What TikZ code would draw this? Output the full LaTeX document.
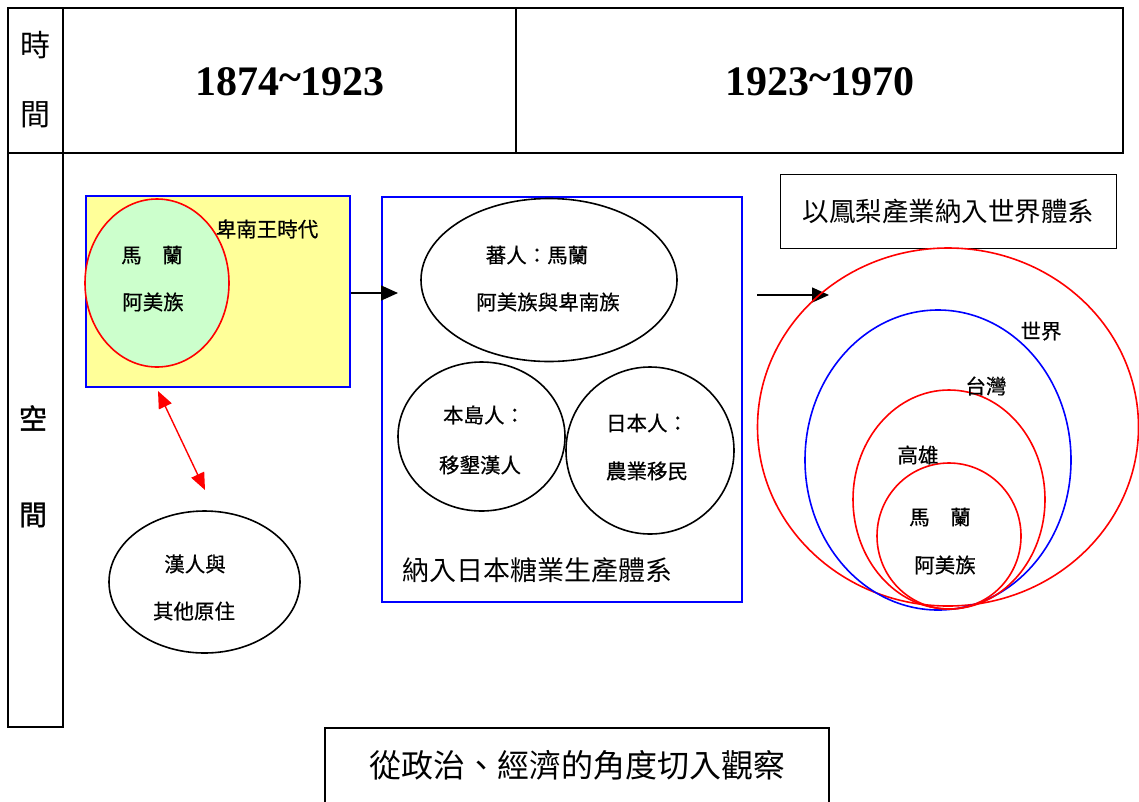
\documentclass[tikz,border=0pt]{standalone}
\usepackage{fontspec}
\setmainfont{Liberation Serif}
\newfontfamily\cjk{Noto Sans CJK TC}
\newfontfamily\cjkm{Noto Sans CJK TC}[FakeBold=0.6]
\newfontfamily\cjkb{Noto Sans CJK TC}[FakeBold=1.2]
\usetikzlibrary{shapes.geometric,arrows.meta}
\definecolor{boxyellow}{RGB}{255,255,153}
\definecolor{boxgreen}{RGB}{204,255,204}
\tikzset{
  frame/.style={draw=black,line width=2.2pt},
  bluebox/.style={draw=blue,line width=1.8pt},
  oval/.style={ellipse,draw=black,line width=1.6pt,inner sep=0pt},
  redoval/.style={ellipse,draw=red,line width=1.6pt,inner sep=0pt},
  blueoval/.style={ellipse,draw=blue,line width=1.6pt,inner sep=0pt},
  lbl/.style={inner sep=0pt,font=\cjkm\fontsize{20.5}{24}\selectfont},
  biglbl/.style={inner sep=0pt,font=\cjk\fontsize{27}{32}\selectfont},
  yr/.style={inner sep=0pt,font=\bfseries\fontsize{42}{48}\selectfont},
  arr/.style={line width=1.4pt,-{Triangle[length=17pt,width=15pt]}},
  redarr/.style={draw=red,line width=1.4pt,{Triangle[length=17pt,width=14pt]}-{Triangle[length=17pt,width=14pt]}},
}
\begin{document}
\begin{tikzpicture}[x=1pt,y=-1pt]
\useasboundingbox (0,0) rectangle (1139,801);
% table
\draw[frame] (8,8) rectangle (1123,153);
\draw[frame] (63,8) -- (63,153);
\draw[frame] (516,8) -- (516,153);
\draw[frame] (8,153) rectangle (63,727);
\node[inner sep=0pt,font=\cjk\fontsize{30}{34}\selectfont] (t1) at (35,45) {時};
\node[inner sep=0pt,font=\cjk\fontsize{30}{34}\selectfont] (t2) at (35,115) {間};
\node[yr] (y1) at (290,82) {1874\raisebox{0.1em}{\char`~}1923};
\node[yr] (y2) at (820,82) {1923\raisebox{0.1em}{\char`~}1970};
\node[inner sep=0pt,font=\cjkb\fontsize{28}{32}\selectfont] (s1) at (33,418) {空};
\node[inner sep=0pt,font=\cjkb\fontsize{28}{32}\selectfont] (s2) at (33,515) {間};
% left yellow box
\node[bluebox,fill=boxyellow,minimum width=264pt,minimum height=191pt,inner sep=0pt] (ybox) at (218,291.5) {};
\node[redoval,fill=boxgreen,minimum width=144pt,minimum height=168pt] (green) at (157,283) {};
\node[lbl] (beinan) at (267,229) {卑南王時代};
\node[lbl] (ml1) at (152,255) {馬　蘭};
\node[lbl] (am1) at (153,302) {阿美族};
% Han ellipse
\node[oval,minimum width=191pt,minimum height=142pt] (han) at (204.5,582) {};
\node[lbl] (han1) at (195,564) {漢人與};
\node[lbl] (han2) at (194,611) {其他原住};
\coordinate (ra1) at (158,391);
\coordinate (ra2) at (205,490);
\draw[redarr] (ra1) -- (ra2);
% middle blue box
\node[bluebox,minimum width=360pt,minimum height=405pt,inner sep=0pt] (mbox) at (562,399.5) {};
\coordinate (a1e) at (398,293);
\draw[arr] (ybox.east |- a1e) -- (a1e);
\node[oval,minimum width=256pt,minimum height=163pt] (fan) at (549,280) {};
\node[lbl] (fan1) at (537,255) {蕃人：馬蘭};
\node[lbl] (fan2) at (548,302) {阿美族與卑南族};
\node[oval,minimum width=167pt,minimum height=149pt] (bd) at (481.5,436.5) {};
\node[lbl] (bd1) at (484,415) {本島人：};
\node[lbl] (bd2) at (480,465) {移墾漢人};
\node[oval,minimum width=168pt,minimum height=167pt] (jp) at (650,450.5) {};
\node[lbl] (jp1) at (647,423) {日本人：};
\node[lbl] (jp2) at (647,471) {農業移民};
\node[biglbl] (sugar) at (537,570) {納入日本糖業生產體系};
% right part
\node[draw=black,line width=1.6pt,minimum width=336pt,minimum height=74pt,inner sep=0pt,font=\cjk\fontsize{26.5}{30}\selectfont] (pine) at (948.5,211.5) {以鳳梨產業納入世界體系};
\coordinate (a2s) at (757,295);
\coordinate (a2e) at (829,295);
\draw[arr] (a2s) -- (a2e);
\node[redoval,minimum width=381pt,minimum height=358pt] (outer) at (948,427) {};
\node[blueoval,minimum width=266pt,minimum height=300pt] (world) at (938,460) {};
\node[redoval,minimum width=192pt,minimum height=219pt] (tw) at (949,499.5) {};
\node[redoval,minimum width=144pt,minimum height=146pt] (ml) at (949,536) {};
\node[lbl] (wl) at (1041,331) {世界};
\node[lbl] (twl) at (986,386) {台灣};
\node[lbl] (ksl) at (918,455) {高雄};
\node[lbl] (ml2) at (940,517) {馬　蘭};
\node[lbl] (am2) at (945,565) {阿美族};
% bottom box
\draw[frame] (325,840) -- (325,728) -- (829,728) -- (829,840);
\node[inner sep=0pt,font=\cjk\fontsize{32}{36}\selectfont] (view) at (577,765) {從政治、經濟的角度切入觀察};
\end{tikzpicture}
\end{document}
